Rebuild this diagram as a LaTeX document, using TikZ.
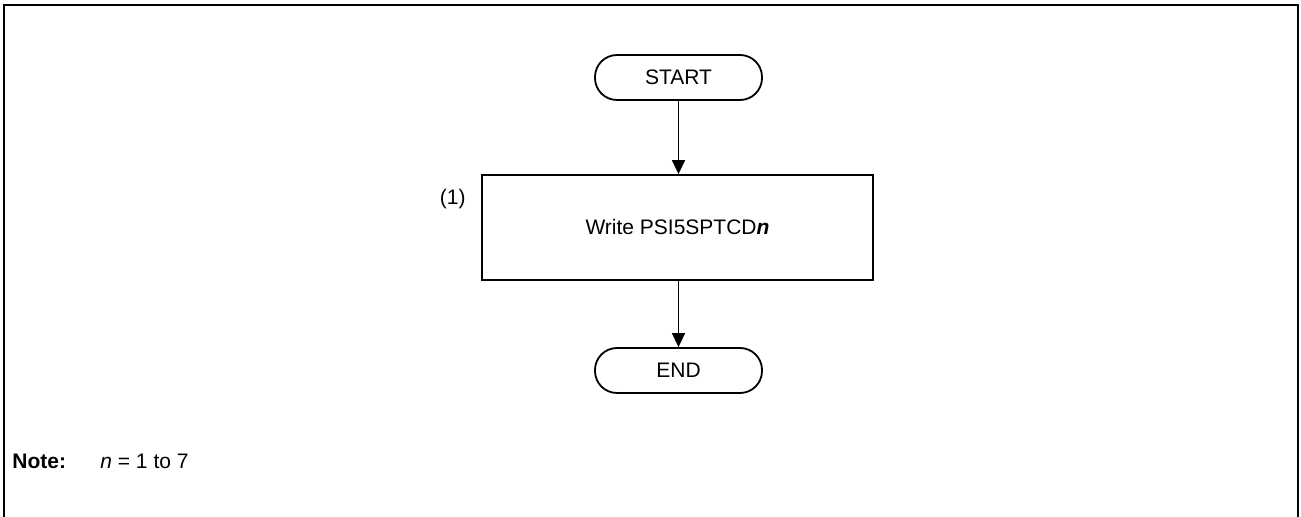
\documentclass[tikz,border=0pt]{standalone}
\usepackage{fontspec}
\setmainfont{Liberation Sans}
\usetikzlibrary{arrows.meta}
\begin{document}
\begin{tikzpicture}[x=0.5pt,y=-0.5pt,
  txt/.style={font=\fontsize{10.5}{12.5}\selectfont},
  term/.style={txt,draw,line width=0.9pt,rounded corners=11pt,minimum width=83.5pt,minimum height=22.5pt,inner sep=0pt},
  proc/.style={txt,draw,line width=0.9pt,minimum width=195.5pt,minimum height=52.5pt,inner sep=0pt},
  flow/.style={line width=0.8pt,-{Triangle[length=7pt,width=6.5pt]}},
  lbl/.style={txt,inner sep=0pt},
  frame/.style={line width=1pt}]
\useasboundingbox (0,0) rectangle (1301,517);
\draw[frame] (4,530) -- (4,5) -- (1298,5) -- (1298,530);
\node[term] (start) at (678.5,77.5) {START};
\node[proc] (p1) at (677.5,227.5) {Write PSI5SPTCD\textbf{\textit{n}}};
\node[term] (end) at (678.5,370.5) {END};
\node[lbl,anchor=east] (l1) at (466,199) {(1)};
\node[lbl,anchor=base west] (note) at (12,469) {\textbf{Note:}};
\node[lbl,anchor=base west] (nv) at (100,469) {\textit{n} = 1 to 7};
\draw[flow] (start.south) -- (start.south |- p1.north);
\draw[flow] (end.north |- p1.south) -- (end.north);
\end{tikzpicture}
\end{document}
